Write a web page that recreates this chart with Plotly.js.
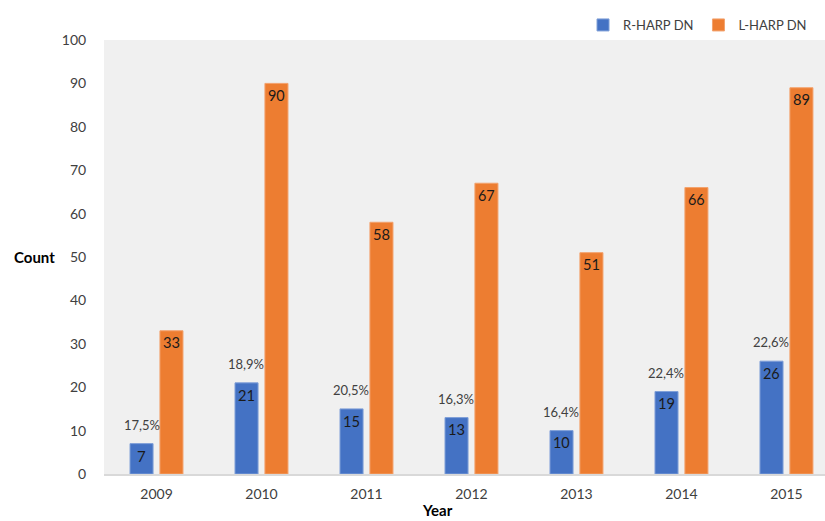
<!DOCTYPE html>
<html>
<head>
<meta charset="utf-8">
<script src="https://cdn.plot.ly/plotly-3.0.1.min.js"></script>
<style>html,body{margin:0;padding:0;background:#fff}#chart{width:825px;height:521px}</style>
</head>
<body>
<div id="chart"></div>
<script>
var years = ['2009', '2010', '2011', '2012', '2013', '2014', '2015'];
var rHarp = [7, 21, 15, 13, 10, 19, 26];
var lHarp = [33, 90, 58, 67, 51, 66, 89];
var rShare = ['17,5%', '18,9%', '20,5%', '16,3%', '16,4%', '22,4%', '22,6%'];
var seriesNames = ['R-HARP DN', 'L-HARP DN'];
var yTicks = [0, 10, 20, 30, 40, 50, 60, 70, 80, 90, 100];

var FONT = 'Lato, "Open Sans", sans-serif';

var traces = [
  {
    type: 'bar', name: seriesNames[0], x: years, y: rHarp,
    text: rHarp.map(String), textposition: 'inside', insidetextanchor: 'end',
    textfont: {family: FONT, size: 15, color: '#1a1a1a'},
    marker: {color: '#4472C4', line: {color: '#7f9fd8', width: 1}},
    hoverinfo: 'x+y', cliponaxis: false
  },
  {
    type: 'bar', name: seriesNames[1], x: years, y: lHarp,
    text: lHarp.map(String), textposition: 'inside', insidetextanchor: 'end',
    textfont: {family: FONT, size: 15, color: '#1a1a1a'},
    marker: {color: '#ED7D31', line: {color: '#f3a26d', width: 1}},
    hoverinfo: 'x+y', cliponaxis: false
  }
];

// category axis: annotation x given as category index
var annotations = years.map(function (yr, i) {
  return {
    x: i, y: rHarp[i], xref: 'x', yref: 'y', text: rShare[i],
    showarrow: false, xshift: -15, yshift: 19,
    font: {family: FONT, size: 13, color: '#404040'}
  };
});
annotations.push({
  text: '<b>Count</b>', xref: 'paper', yref: 'paper', x: -0.127, y: 0.5,
  xanchor: 'left', yanchor: 'middle', showarrow: false,
  font: {family: FONT, size: 15, color: '#000'}
});
annotations.push({
  text: '<b>Year</b>', xref: 'paper', yref: 'paper', x: 0.462, y: -0.083,
  xanchor: 'center', yanchor: 'middle', showarrow: false,
  font: {family: FONT, size: 15, color: '#000'}
});

var layout = {
  width: 825, height: 521,
  margin: {l: 104, r: 0, t: 40, b: 47},
  paper_bgcolor: '#ffffff', plot_bgcolor: '#f0f0f0',
  barmode: 'group', bargap: 0.43, bargroupgap: 0.23,
  showlegend: true,
  legend: {
    orientation: 'h', x: 0.982, xanchor: 'right', y: 1.0, yanchor: 'bottom',
    font: {family: FONT, size: 13, color: '#404040'},
    itemwidth: 30, traceorder: 'normal', bgcolor: 'rgba(0,0,0,0)'
  },
  xaxis: {
    type: 'category', range: [-0.5, 6.367], showgrid: false,
    showline: true, linecolor: '#d9d9d9', linewidth: 2,
    ticks: 'outside', ticklen: 6, tickcolor: 'rgba(0,0,0,0)',
    tickfont: {family: FONT, size: 14, color: '#404040'},
    fixedrange: true
  },
  yaxis: {
    range: [0, 100], tickvals: yTicks, showgrid: false, zeroline: false,
    showline: false, ticks: 'outside', ticklen: 14, tickcolor: 'rgba(0,0,0,0)',
    tickfont: {family: FONT, size: 14, color: '#404040'},
    fixedrange: true
  },
  annotations: annotations,
  font: {family: FONT}
};

Plotly.newPlot('chart', traces, layout, {displayModeBar: false, staticPlot: true});
</script>
</body>
</html>
